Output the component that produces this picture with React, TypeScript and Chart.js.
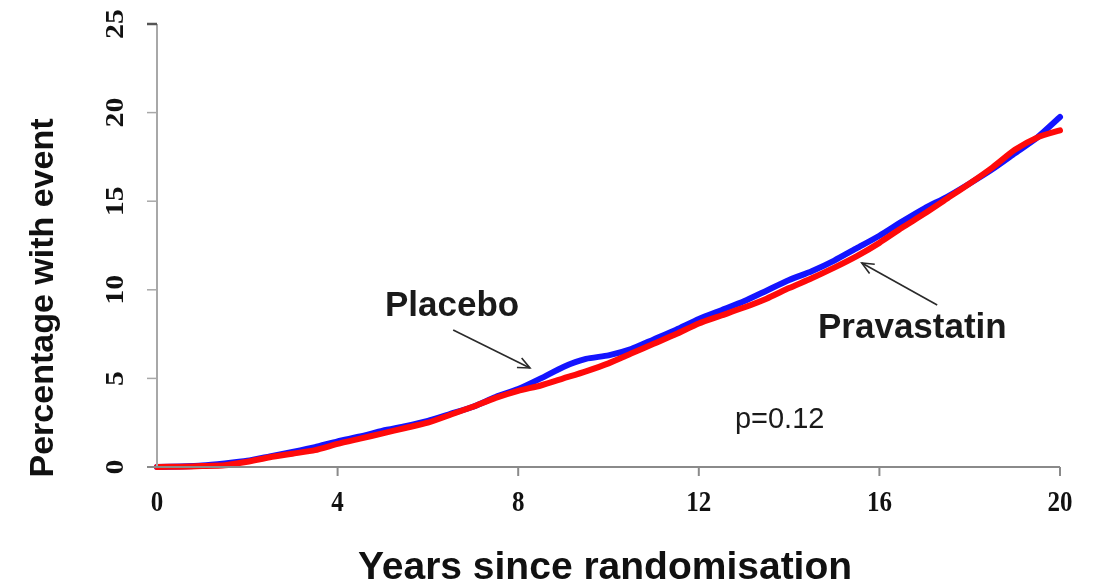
import React, { useEffect, useRef } from "react";
import { Chart, registerables } from "chart.js";

Chart.register(...registerables);

const years = [0, 0.5, 1, 1.5, 2, 2.5, 3, 3.5, 4, 4.5, 5, 5.5, 6, 6.5, 7, 7.5, 8, 8.5, 9, 9.5, 10, 10.5, 11, 11.5, 12, 12.5, 13, 13.5, 14, 14.5, 15, 15.5, 16, 16.5, 17, 17.5, 18, 18.5, 19, 19.5, 20];
const placebo = [0, 0.03, 0.08, 0.2, 0.35, 0.6, 0.85, 1.12, 1.45, 1.72, 2.05, 2.3, 2.6, 3.0, 3.4, 3.95, 4.4, 5.0, 5.65, 6.1, 6.3, 6.65, 7.2, 7.75, 8.35, 8.85, 9.35, 9.95, 10.55, 11.05, 11.65, 12.35, 13.05, 13.85, 14.6, 15.25, 16.0, 16.8, 17.7, 18.6, 19.75];
const pravastatin = [0, 0.02, 0.05, 0.1, 0.3, 0.55, 0.75, 0.95, 1.3, 1.6, 1.9, 2.2, 2.5, 2.95, 3.4, 3.9, 4.3, 4.6, 5.0, 5.4, 5.85, 6.4, 6.95, 7.5, 8.1, 8.55, 9.0, 9.5, 10.1, 10.65, 11.25, 11.9, 12.65, 13.5, 14.3, 15.15, 16.0, 16.9, 17.9, 18.6, 19.0];

const xTicks = [0, 4, 8, 12, 16, 20];
const yTicks = [0, 5, 10, 15, 20, 25];
const xTitle = "Years since randomisation";
const yTitle = "Percentage with event";
const labelPlacebo = "Placebo";
const labelPrava = "Pravastatin";
const pText = "p=0.12";

// annotation anchors in data units
const placeboLabelPos = [5.05, 8.52];
const placeboArrow = [[6.56, 7.73], [8.26, 5.59]];
const pravaLabelPos = [14.64, 7.28];
const pravaArrow = [[17.28, 9.14], [15.61, 11.51]];
const pPos = [12.8, 2.2];

function drawArrow(ctx: CanvasRenderingContext2D, x1: number, y1: number, x2: number, y2: number) {
  ctx.save();
  ctx.strokeStyle = "#2a2a2a";
  ctx.lineWidth = 1.6;
  ctx.beginPath();
  ctx.moveTo(x1, y1);
  ctx.lineTo(x2, y2);
  ctx.stroke();
  const ang = Math.atan2(y2 - y1, x2 - x1);
  const len = 13;
  const spread = 0.42;
  ctx.beginPath();
  ctx.moveTo(x2 - len * Math.cos(ang - spread), y2 - len * Math.sin(ang - spread));
  ctx.lineTo(x2, y2);
  ctx.lineTo(x2 - len * Math.cos(ang + spread), y2 - len * Math.sin(ang + spread));
  ctx.stroke();
  ctx.restore();
}

const decorPlugin = {
  id: "decor",
  afterDraw(chart: any) {
    const ctx: CanvasRenderingContext2D = chart.ctx;
    const xs = chart.scales.x;
    const ys = chart.scales.y;
    const x0 = xs.getPixelForValue(0);
    const x20 = xs.getPixelForValue(20);
    const y0 = ys.getPixelForValue(0);
    const y25 = ys.getPixelForValue(25);
    ctx.save();
    // y axis
    ctx.strokeStyle = "#a8a8a8";
    ctx.lineWidth = 2;
    ctx.beginPath();
    ctx.moveTo(x0, y25);
    ctx.lineTo(x0, y0);
    ctx.stroke();
    yTicks.forEach((v) => {
      const yp = ys.getPixelForValue(v);
      ctx.strokeStyle = v === 25 ? "#555" : "#a8a8a8";
      ctx.lineWidth = v === 25 ? 2.5 : 1.5;
      ctx.beginPath();
      ctx.moveTo(x0 - 10, yp);
      ctx.lineTo(x0, yp);
      ctx.stroke();
    });
    // x axis
    ctx.strokeStyle = "#8a8a8a";
    ctx.lineWidth = 2;
    ctx.beginPath();
    ctx.moveTo(x0 - 10, y0);
    ctx.lineTo(x20, y0);
    ctx.stroke();
    xTicks.forEach((v) => {
      if (v === 0) return;
      const xp = xs.getPixelForValue(v);
      ctx.beginPath();
      ctx.moveTo(xp, y0);
      ctx.lineTo(xp, y0 + 9);
      ctx.stroke();
    });
    // x tick labels
    ctx.fillStyle = "#111";
    ctx.font = "bold 25px 'Liberation Serif'";
    ctx.textAlign = "center";
    ctx.textBaseline = "middle";
    xTicks.forEach((v) => {
      const xp = xs.getPixelForValue(v);
      ctx.save();
      ctx.translate(xp, 503);
      ctx.scale(1, 1.2);
      ctx.fillText(String(v), 0, 0);
      ctx.restore();
    });
    // y tick labels (rotated)
    ctx.font = "bold 26px 'Liberation Serif'";
    yTicks.forEach((v) => {
      const yp = ys.getPixelForValue(v);
      ctx.save();
      ctx.translate(116, yp);
      ctx.scale(1, 1.15);
      ctx.rotate(-Math.PI / 2);
      ctx.fillText(String(v), 0, 0);
      ctx.restore();
    });
    // axis titles
    ctx.fillStyle = "#111";
    ctx.font = "bold 39px 'Liberation Sans'";
    ctx.textAlign = "center";
    ctx.textBaseline = "alphabetic";
    ctx.fillText(xTitle, 605, 579);
    ctx.save();
    ctx.translate(53, 298);
    ctx.rotate(-Math.PI / 2);
    ctx.font = "bold 34px 'Liberation Sans'";
    ctx.fillText(yTitle, 0, 0);
    ctx.restore();
    // annotations
    ctx.textAlign = "left";
    ctx.font = "bold 35px 'Liberation Sans'";
    ctx.fillStyle = "#1a1a1a";
    ctx.fillText(labelPlacebo, xs.getPixelForValue(placeboLabelPos[0]), ys.getPixelForValue(placeboLabelPos[1]));
    ctx.fillText(labelPrava, xs.getPixelForValue(pravaLabelPos[0]), ys.getPixelForValue(pravaLabelPos[1]));
    ctx.font = "29px 'Liberation Sans'";
    ctx.fillText(pText, xs.getPixelForValue(pPos[0]), ys.getPixelForValue(pPos[1]));
    drawArrow(ctx, xs.getPixelForValue(placeboArrow[0][0]), ys.getPixelForValue(placeboArrow[0][1]), xs.getPixelForValue(placeboArrow[1][0]), ys.getPixelForValue(placeboArrow[1][1]));
    drawArrow(ctx, xs.getPixelForValue(pravaArrow[0][0]), ys.getPixelForValue(pravaArrow[0][1]), xs.getPixelForValue(pravaArrow[1][0]), ys.getPixelForValue(pravaArrow[1][1]));
    ctx.restore();
  },
};

export default function App() {
  const ref = useRef<HTMLCanvasElement | null>(null);
  useEffect(() => {
    document.body.style.margin = "0";
    const canvas = ref.current!;
    const chart = new Chart(canvas, {
      type: "line",
      data: {
        datasets: [
          {
            label: labelPrava,
            data: years.map((x, i) => ({ x, y: pravastatin[i] })),
            borderColor: "#ff0a0a",
            borderWidth: 6,
            pointRadius: 0,
            borderCapStyle: "round",
            borderJoinStyle: "round",
            tension: 0.2,
            clip: false as any,
          },
          {
            label: labelPlacebo,
            data: years.map((x, i) => ({ x, y: placebo[i] })),
            borderColor: "#1414ff",
            borderWidth: 6,
            pointRadius: 0,
            borderCapStyle: "round",
            borderJoinStyle: "round",
            tension: 0.2,
            clip: false as any,
          },
        ],
      },
      options: {
        responsive: false,
        animation: false,
        devicePixelRatio: 1,
        layout: { padding: { left: 157, right: 41, top: 24, bottom: 116 } },
        plugins: { legend: { display: false }, tooltip: { enabled: false } },
        scales: {
          x: { type: "linear", min: 0, max: 20, display: false },
          y: { type: "linear", min: 0, max: 25, display: false },
        },
      },
      plugins: [decorPlugin],
    });
    return () => chart.destroy();
  }, []);
  return (
    <div style={{ width: 1101, height: 583, background: "#fff" }}>
      <canvas ref={ref} width={1101} height={583} style={{ display: "block" }} />
    </div>
  );
}
